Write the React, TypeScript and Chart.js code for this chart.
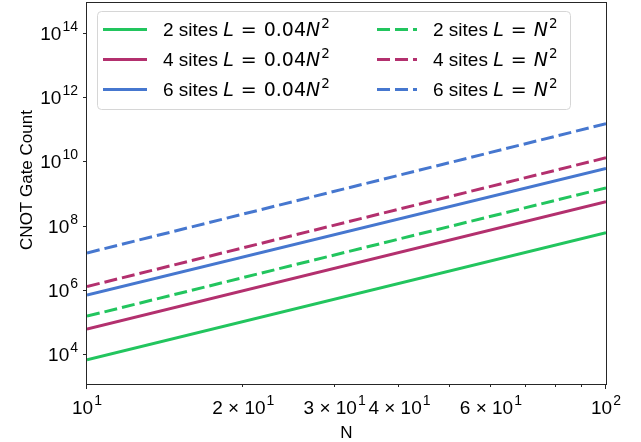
import React, { useEffect, useRef } from 'react';
import { Chart, registerables } from 'chart.js';

Chart.register(...registerables);

// ---- data ----
const nValues = [10, 100];
const siteLabels = ['2 sites', '4 sites', '6 sites'];
const seriesColors = ['#22c55e', '#b3306e', '#4677cf'];
// L = 0.04 N^2 (solid)
const small2 = [6.5e3, 6.0e7];
const small4 = [5.9e4, 5.5e8];
const small6 = [6.8e5, 6.0e9];
// L = N^2 (dashed)
const full2 = [1.5e5, 1.5e9];
const full4 = [1.26e6, 1.3e10];
const full6 = [1.4e7, 1.5e11];

const xMin = 10;
const xMax = 100;
const yMin = Math.pow(10, 3.03);
const yMax = Math.pow(10, 14.97);

const xTickValues = [10, 20, 30, 40, 60, 100];
const xTickBases = ['10', '2 \u00d7 10', '3 \u00d7 10', '4 \u00d7 10', '6 \u00d7 10', '10'];
const xTickExps = ['1', '1', '1', '1', '1', '2'];
const xMajorTicks = [10, 100];
const xMinorTicks = [20, 30, 40, 50, 60, 70, 80, 90];
const yTickValues = [1e4, 1e6, 1e8, 1e10, 1e12, 1e14];
const yTickExps = ['4', '6', '8', '10', '12', '14'];

const xTitle = 'N';
const yTitle = 'CNOT Gate Count';

const TEXT = '"Liberation Sans", Arial, sans-serif';
const MATH = '"DejaVu Sans", sans-serif';

const smallSeries = [small2, small4, small6];
const fullSeries = [full2, full4, full6];
const DASH = [13, 5];

function drawPower(ctx: CanvasRenderingContext2D, x: number, y: number, base: string, exp: string, align: string) {
  const baseFont = `19px ${TEXT}`;
  const expFont = `14px ${TEXT}`;
  ctx.font = baseFont;
  const bw = ctx.measureText(base).width;
  ctx.font = expFont;
  const ew = ctx.measureText(exp).width;
  const total = bw + 1 + ew;
  let left = x;
  if (align === 'center') left = x - total / 2;
  else if (align === 'right') left = x - total;
  ctx.textAlign = 'left';
  ctx.textBaseline = 'alphabetic';
  ctx.font = baseFont;
  ctx.fillText(base, left, y);
  ctx.font = expFont;
  ctx.fillText(exp, left + bw + 1, y - 9);
}

function drawLegendText(ctx: CanvasRenderingContext2D, x: number, y: number, site: string, coef: string) {
  const segs: any[] = [
    { t: site + ' ', f: `19px ${TEXT}` },
    { t: 'L', f: `italic 19px ${MATH}` },
    { gap: 7 },
    { t: '=', f: `19px ${MATH}` },
    { gap: 7 },
  ];
  if (coef) segs.push({ t: coef, f: `19px ${MATH}` });
  segs.push({ t: 'N', f: `italic 19px ${MATH}` });
  segs.push({ t: '2', f: `13.5px ${MATH}`, rise: 8.5, pre: 1 });
  ctx.textAlign = 'left';
  ctx.textBaseline = 'alphabetic';
  let cx = x;
  for (const s of segs) {
    if (s.gap) { cx += s.gap; continue; }
    if (s.pre) cx += s.pre;
    ctx.font = s.f;
    ctx.fillText(s.t, cx, y - (s.rise || 0));
    cx += ctx.measureText(s.t).width;
  }
}

const decorPlugin = {
  id: 'decor',
  afterDatasetsDraw(chart: any) {
    const ctx: CanvasRenderingContext2D = chart.ctx;
    const { left, right, top, bottom } = chart.chartArea;
    const xs = chart.scales.x;
    const ys = chart.scales.y;
    ctx.save();
    // axes box
    ctx.strokeStyle = '#262626';
    ctx.lineWidth = 1;
    ctx.setLineDash([]);
    ctx.strokeRect(Math.round(left) - 0.5, Math.round(top) + 0.5, Math.round(right - left) + 1, Math.round(bottom - top) - 1);
    // ticks
    ctx.beginPath();
    for (const v of xMajorTicks) {
      const px = Math.round(xs.getPixelForValue(v)) - 0.5;
      ctx.moveTo(px, bottom);
      ctx.lineTo(px, bottom + 4);
    }
    for (const v of xMinorTicks) {
      const px = Math.round(xs.getPixelForValue(v)) - 0.5;
      ctx.moveTo(px, bottom);
      ctx.lineTo(px, bottom + 2);
    }
    for (const v of yTickValues) {
      const py = Math.round(ys.getPixelForValue(v)) + 0.5;
      ctx.moveTo(left, py);
      ctx.lineTo(left - 4, py);
    }
    ctx.stroke();
    // tick labels
    ctx.fillStyle = '#000';
    xTickValues.forEach((v, i) => {
      drawPower(ctx, xs.getPixelForValue(v), bottom + 29, xTickBases[i], xTickExps[i], 'center');
    });
    yTickValues.forEach((v, i) => {
      drawPower(ctx, left - 9, ys.getPixelForValue(v) + 7, '10', yTickExps[i], 'right');
    });
    // axis titles
    ctx.font = `17px ${TEXT}`;
    ctx.textAlign = 'center';
    ctx.textBaseline = 'alphabetic';
    ctx.fillText(xTitle, (left + right) / 2, 438);
    ctx.save();
    ctx.translate(32, 180);
    ctx.rotate(-Math.PI / 2);
    ctx.fillText(yTitle, 0, 0);
    ctx.restore();
    // legend
    const bx = 97.5, by = 11.5, bw = 473, bh = 98, r = 4;
    ctx.beginPath();
    ctx.moveTo(bx + r, by);
    ctx.lineTo(bx + bw - r, by);
    ctx.arcTo(bx + bw, by, bx + bw, by + r, r);
    ctx.lineTo(bx + bw, by + bh - r);
    ctx.arcTo(bx + bw, by + bh, bx + bw - r, by + bh, r);
    ctx.lineTo(bx + r, by + bh);
    ctx.arcTo(bx, by + bh, bx, by + bh - r, r);
    ctx.lineTo(bx, by + r);
    ctx.arcTo(bx, by, bx + r, by, r);
    ctx.closePath();
    ctx.fillStyle = 'rgba(255,255,255,0.8)';
    ctx.fill();
    ctx.strokeStyle = '#d6d6d6';
    ctx.stroke();
    for (let i = 0; i < 3; i++) {
      const ry = 29.5 + i * 30;
      ctx.lineWidth = 3;
      ctx.lineCap = 'butt';
      ctx.strokeStyle = seriesColors[i];
      ctx.setLineDash([]);
      ctx.beginPath();
      ctx.moveTo(103, ry);
      ctx.lineTo(147, ry);
      ctx.stroke();
      ctx.setLineDash(DASH);
      ctx.beginPath();
      ctx.moveTo(377, ry);
      ctx.lineTo(417, ry);
      ctx.stroke();
      ctx.setLineDash([]);
      ctx.fillStyle = '#000';
      drawLegendText(ctx, 163, ry + 6.5, siteLabels[i], '0.04');
      drawLegendText(ctx, 433, ry + 6.5, siteLabels[i], '');
    }
    ctx.restore();
  },
};

export default function App() {
  const ref = useRef<HTMLCanvasElement | null>(null);
  useEffect(() => {
    if (!ref.current) return;
    const datasets: any[] = [];
    for (let i = 0; i < 3; i++) {
      datasets.push({
        label: siteLabels[i] + ' L = 0.04N^2',
        data: nValues.map((n, k) => ({ x: n, y: smallSeries[i][k] })),
        borderColor: seriesColors[i],
        borderWidth: 3,
        pointRadius: 0,
        fill: false,
        tension: 0,
      });
    }
    for (let i = 0; i < 3; i++) {
      datasets.push({
        label: siteLabels[i] + ' L = N^2',
        data: nValues.map((n, k) => ({ x: n, y: fullSeries[i][k] })),
        borderColor: seriesColors[i],
        borderWidth: 3,
        borderDash: DASH,
        pointRadius: 0,
        fill: false,
        tension: 0,
      });
    }
    const chart = new Chart(ref.current, {
      type: 'line',
      data: { datasets },
      options: {
        animation: false,
        responsive: false,
        maintainAspectRatio: false,
        devicePixelRatio: 1,
        layout: { padding: { top: 2, right: 35, left: 0, bottom: 0 } },
        plugins: { legend: { display: false }, tooltip: { enabled: false } },
        scales: {
          x: {
            type: 'logarithmic',
            min: xMin,
            max: xMax,
            grid: { display: false },
            border: { display: false },
            ticks: { display: false },
            afterFit: (s: any) => { s.height = 57; },
          },
          y: {
            type: 'logarithmic',
            min: yMin,
            max: yMax,
            grid: { display: false },
            border: { display: false },
            ticks: { display: false },
            afterFit: (s: any) => { s.width = 87; },
          },
        },
      } as any,
      plugins: [decorPlugin],
    });
    return () => chart.destroy();
  }, []);
  return (
    <div style={{ position: 'fixed', left: 0, top: 0, width: 641, height: 442, background: '#fff' }}>
      <canvas ref={ref} width={641} height={442} style={{ width: 641, height: 442, display: 'block' }} />
    </div>
  );
}
